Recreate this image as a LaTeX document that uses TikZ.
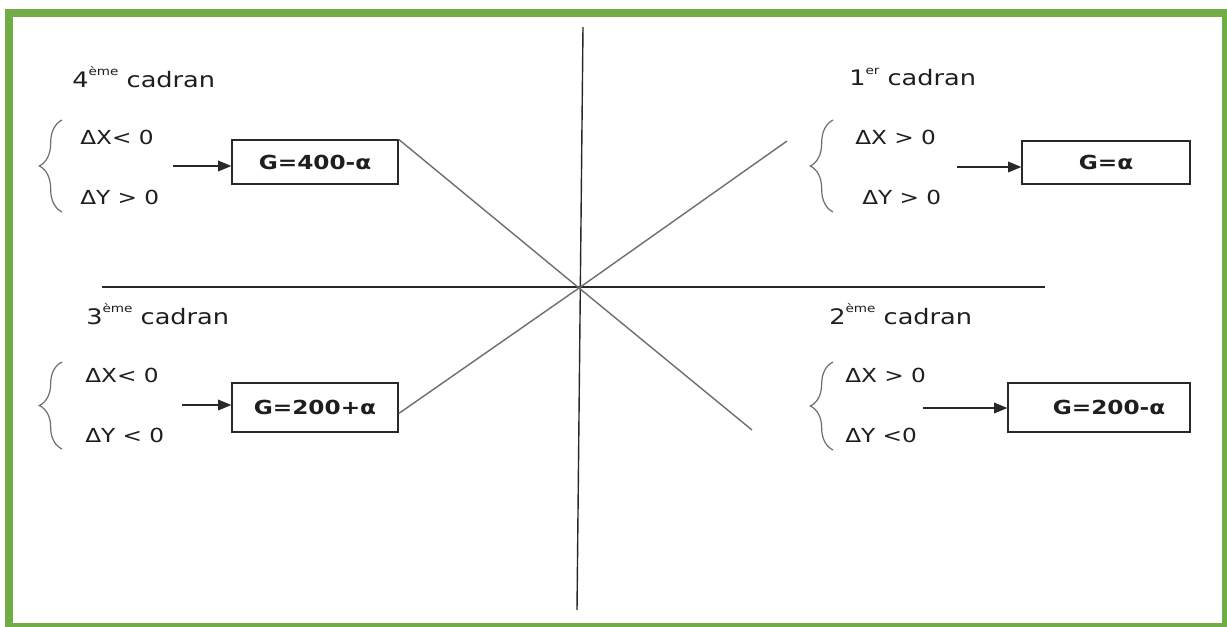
\documentclass[tikz,border=0pt]{standalone}
\usepackage{fontspec}
\setmainfont{DejaVu Sans}[FakeStretch=1.2]
\usetikzlibrary{arrows.meta,decorations.pathreplacing,calc}
\definecolor{frame}{RGB}{112,173,71}
\definecolor{ink}{RGB}{30,30,30}
\definecolor{axis}{RGB}{40,40,40}
\definecolor{diag}{RGB}{110,110,110}
\newcommand{\sups}[1]{\raisebox{0.55em}{\fontsize{8.5}{9}\selectfont #1}}
\begin{document}
\begin{tikzpicture}[x=0.75pt,y=-0.75pt,
  font=\fontsize{14.5}{17}\selectfont,
  txt/.style={inner sep=0pt,anchor=west,text=ink},
  head/.style={txt,font=\fontsize{16}{19}\selectfont},
  result/.style={draw=axis,line width=1.3pt*0.75,inner sep=0pt,
    font=\fontsize{14.5}{17}\selectfont\bfseries,text=ink},
  axisline/.style={draw=axis,line width=1.4pt*0.75},
  diagline/.style={draw=diag,line width=1.4pt*0.75},
  curly/.style={draw=diag,line width=1.2pt*0.75,
    decorate,decoration={brace,amplitude=17pt,aspect=0.5}},
  pointer/.style={draw=axis,line width=1.4pt*0.75,-{Triangle[length=10pt,width=8pt]}}]
\useasboundingbox (0,0) rectangle (1227,626);
\clip (0,0) rectangle (1227,626);
\fill[white] (0,0) rectangle (1227,626);
\draw[frame,line width=6pt] (9,13) rectangle (1226,627);

% axes and diagonals
\coordinate (O) at (579,288);
\coordinate (top) at (583,27);
\coordinate (bot) at (577,610);
\coordinate (lft) at (102,287);
\coordinate (rgt) at (1045,287);
\path[axisline] (top) -- (bot);
\path[axisline] (lft) -- (rgt);

% result boxes
\node[result,minimum width=124.5pt,minimum height=33pt] (b4) at (315,162) {G=400-α};
\node[result,minimum width=126pt,minimum height=32.25pt] (b1) at (1106,162.5) {G=α};
\node[result,minimum width=124.5pt,minimum height=36.75pt] (b3) at (315,407.5) {G=200+α};
\node[result,minimum width=136.5pt,minimum height=36.75pt] (b2) at (1099,407.5) {\hspace*{15pt}G=200-α};

\coordinate (d1) at (787,141);
\coordinate (d2) at (752,430);
\path[diagline] (O) -- (b4.north east);
\path[diagline] (O) -- (d1);
\path[diagline] (O) -- ($(b3.north east)!0.62!(b3.south east)$);
\path[diagline] (O) -- (d2);

% quadrant 4
\node[head] (t4) at (72,77) {4\sups{ème} cadran};
\node[txt] (x4) at (80,137) {ΔX< 0};
\node[txt] (y4) at (80,197) {ΔY > 0};
\draw[curly] (62,212) -- (62,120);
\coordinate (a4) at (173,166);
\draw[pointer] (a4) -- (a4 -| b4.west);

% quadrant 1
\node[head] (t1) at (849,77) {1\sups{er} cadran};
\node[txt] (x1) at (855,137) {ΔX > 0};
\node[txt] (y1) at (862,197) {ΔY > 0};
\draw[curly] (833,212) -- (833,120);
\coordinate (a1) at (957,167);
\draw[pointer] (a1) -- (a1 -| b1.west);

% quadrant 3
\node[head] (t3) at (86,314) {3\sups{ème} cadran};
\node[txt] (x3) at (85,375) {ΔX< 0};
\node[txt] (y3) at (85,435) {ΔY < 0};
\draw[curly] (62,449) -- (62,362);
\coordinate (a3) at (182,405);
\draw[pointer] (a3) -- (a3 -| b3.west);

% quadrant 2
\node[head] (t2) at (829,314) {2\sups{ème} cadran};
\node[txt] (x2) at (845,375) {ΔX > 0};
\node[txt] (y2) at (845,435) {ΔY <0};
\draw[curly] (833,450) -- (833,362);
\coordinate (a2) at (923,408);
\draw[pointer] (a2) -- (a2 -| b2.west);
\end{tikzpicture}
\end{document}
